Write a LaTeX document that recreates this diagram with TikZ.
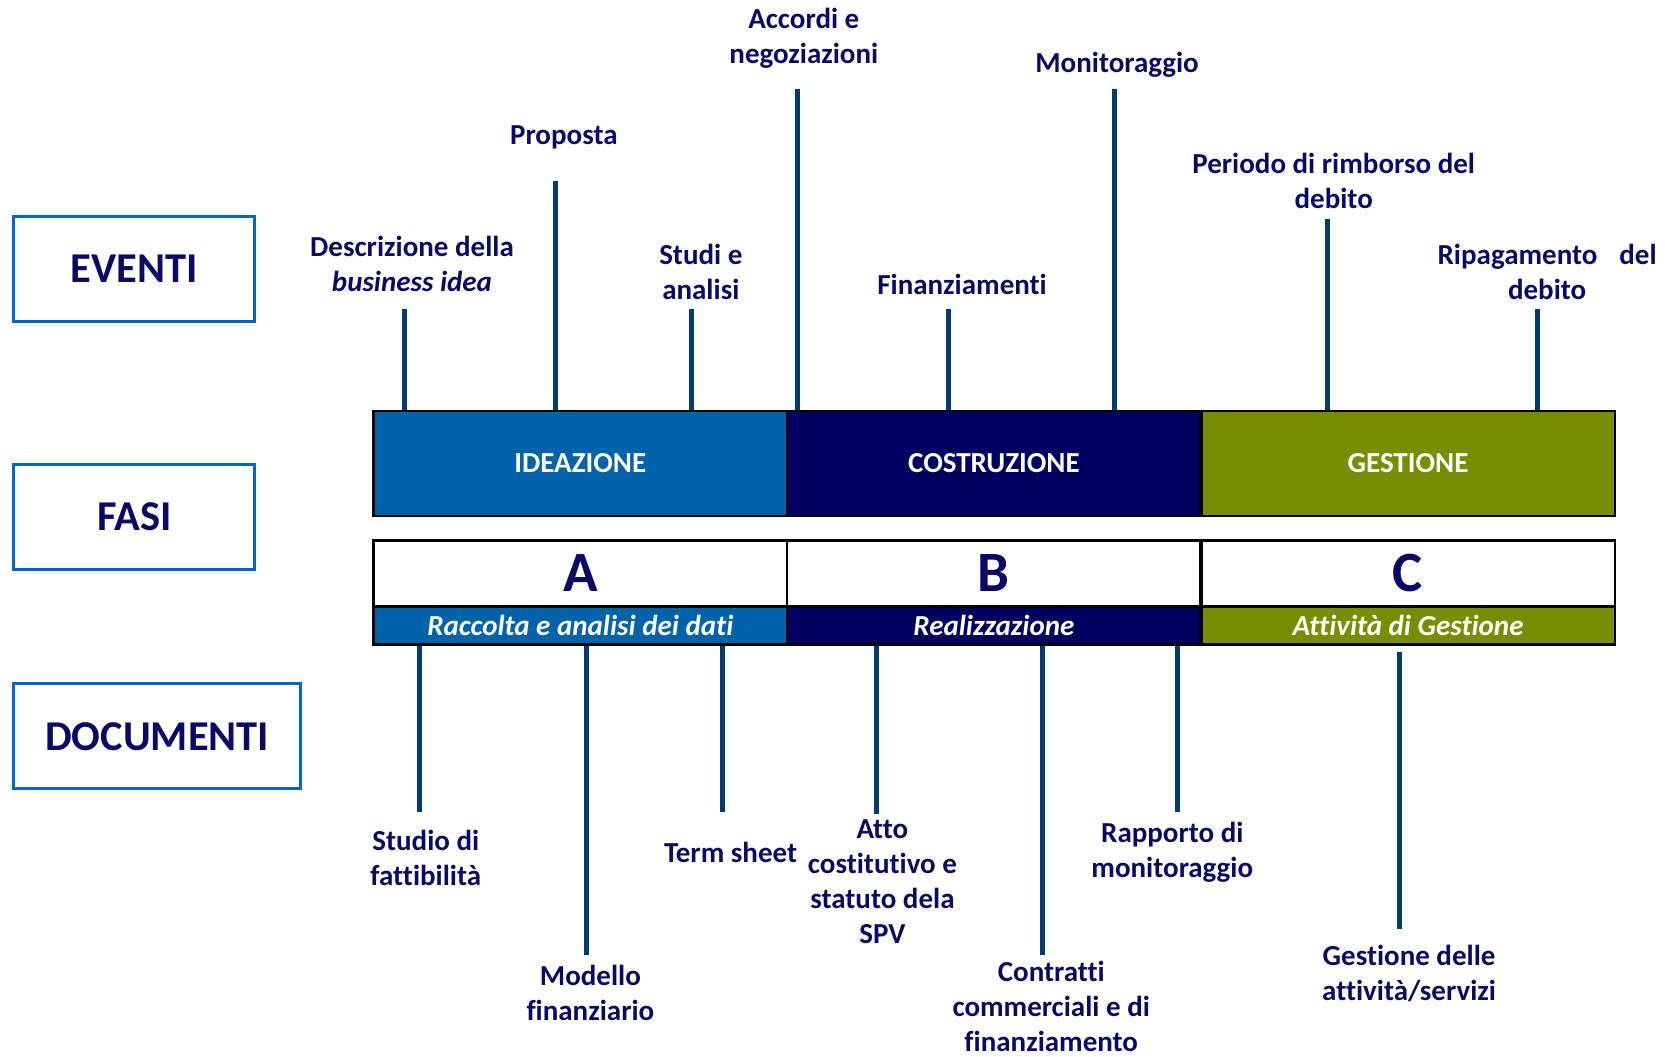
\documentclass[tikz,border=0pt]{standalone}
\usepackage{fontspec}
\setmainfont{Carlito}[Ligatures={NoCommon,NoContextual},RawFeature={-calt;-clig}]
\definecolor{navytxt}{HTML}{0A0A66}
\definecolor{linec}{HTML}{003C6E}
\definecolor{boxblue}{HTML}{0066CC}
\definecolor{ideab}{HTML}{0062A8}
\definecolor{costb}{HTML}{000060}
\definecolor{gestg}{HTML}{7A8C00}
\tikzset{
  lab/.style={font=\fontsize{29}{35}\selectfont\bfseries, text=navytxt, align=center, inner sep=0pt},
  side/.style={draw=boxblue, line width=3pt, font=\fontsize{42.5}{50}\selectfont\bfseries, text=navytxt, inner sep=0pt},
  phase/.style={draw=black, line width=2.5pt, minimum width=413.5pt, minimum height=105pt, inner sep=0pt, text=white, font=\fontsize{29}{35}\selectfont\bfseries},
  letterbox/.style={draw=black, line width=2.5pt, fill=white, minimum width=413.5pt, minimum height=66pt, inner sep=0pt, text=navytxt, font=\fontsize{57}{60}\selectfont\bfseries},
  strip/.style={draw=black, line width=2.5pt, minimum width=413.5pt, minimum height=38pt, inner sep=0pt, text=white, font=\fontsize{29}{35}\selectfont\bfseries\itshape},
  vline/.style={draw=linec, line width=5pt}
}
\begin{document}
\begin{tikzpicture}[x=1.0619pt,y=-1.0619pt]
\useasboundingbox (0,0) rectangle (1568,995);

% side boxes
\node[side, minimum width=241pt, minimum height=105pt] (ev) at (126.5,253.5) {EVENTI};
\node[side, minimum width=241pt, minimum height=105pt] (fa) at (126.5,486.5) {FASI};
\node[side, minimum width=287pt, minimum height=105pt] (doc) at (148,693.5) {DOCUMENTI};

% event labels
\node[lab] (e1) at (388,248.5) {Descrizione della\\\textit{business idea}};
\node[lab] (e2) at (531,129) {Proposta};
\node[lab] (e3) at (660,256.5) {Studi e\\analisi};
\node[lab] (e4) at (757,36) {Accordi e\\negoziazioni};
\node[lab] (e5) at (906,268) {Finanziamenti};
\node[lab] (e6) at (1052,61) {Monitoraggio};
\node[lab] (e7) at (1256,170.5) {Periodo di rimborso del\\debito};
\node[lab] (e8) at (1457,256.5) {\makebox[219pt][s]{Ripagamento del}\\debito};

% document labels
\node[lab] (d1) at (401,807.5) {Studio di\\fattibilità};
\node[lab] (d2) at (556,935.5) {Modello\\finanziario};
\node[lab] (d3) at (688,803) {Term sheet};
\node[lab] (d4) at (831,830) {Atto\\costitutivo e\\statuto dela\\SPV};
\node[lab] (d5) at (990,948) {Contratti\\commerciali e di\\finanziamento};
\node[lab] (d6) at (1104,802.5) {Rapporto di\\monitoraggio};
\node[lab] (d7) at (1327,917) {Gestione delle\\attività/servizi};

% line ends
\coordinate (t1) at (381,291);
\coordinate (t2) at (523,170);
\coordinate (t3) at (651,291);
\coordinate (t4) at (751,84);
\coordinate (t5) at (893,291);
\coordinate (t6) at (1050,84);
\coordinate (t7) at (1250,206);
\coordinate (t8) at (1448,291);
\coordinate (b1) at (395,765);
\coordinate (b2) at (552,899);
\coordinate (b3) at (680,765);
\coordinate (b4) at (825,767);
\coordinate (b5) at (982,899);
\coordinate (b6) at (1109,765);
\coordinate (b7) at (1318,875);
\coordinate (b7s) at (1318,614);

% bar centres
\path (546.5,436.5) coordinate (cI) (936,436.5) coordinate (cC) (1326,436.5) coordinate (cG);

% vertical lines
\foreach \t in {t1,t2,t3,t4,t5,t6,t7,t8}
  \draw[vline] (\t) -- (\t |- 0,387);
\foreach \b in {b1,b2,b3,b4,b5,b6}
  \draw[vline] (\b |- 0,607) -- (\b);
\draw[vline] (b7s) -- (b7);

% phase bars
\node[phase, fill=ideab] (ideaz) at (cI) {IDEAZIONE};
\node[phase, fill=costb] (costr) at (cC) {COSTRUZIONE};
\node[phase, fill=gestg] (gest) at (cG) {GESTIONE};

\node[letterbox] (lA) at (546.5,540) {A};
\node[letterbox] (lB) at (936,540) {B};
\node[letterbox] (lC) at (1326,540) {C};

\node[strip, fill=ideab] (sA) at (546.5,589) {Raccolta e analisi dei dati};
\node[strip, fill=costb] (sB) at (936,589) {Realizzazione};
\node[strip, fill=gestg] (sC) at (1326,589) {Attività di Gestione};
\end{tikzpicture}
\end{document}
